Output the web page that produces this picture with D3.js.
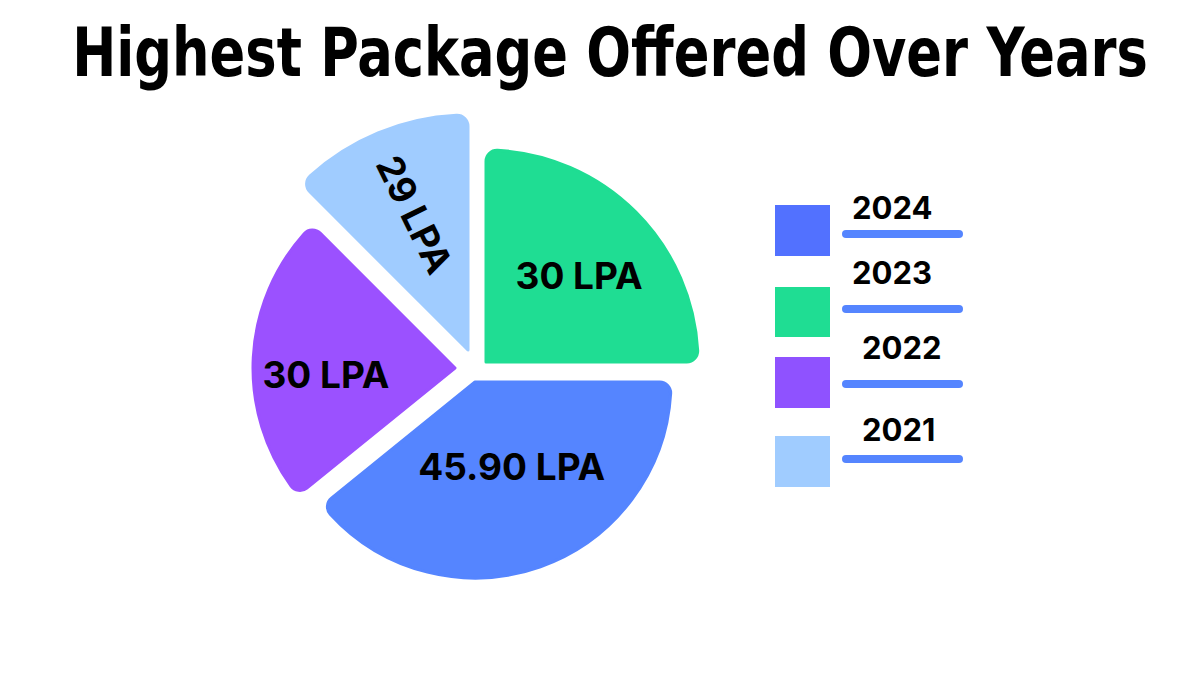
<!DOCTYPE html>
<html>
<head>
<meta charset="utf-8">
<script src="https://cdn.jsdelivr.net/npm/d3@7"></script>
<style>
  html, body { margin: 0; padding: 0; background: #ffffff; }
  svg { display: block; }
</style>
</head>
<body>
<svg id="chart" width="1200" height="675"></svg>
<script>
// ---- Data ----
const years = ["2024", "2023", "2022", "2021"];
const packageLabels = ["45.90 LPA", "30 LPA", "30 LPA", "29 LPA"];
// angular share of each slice as drawn in the picture (degrees)
const sliceShare = [141, 90, 84, 45];
// clockwise drawing order from 12 o'clock
const drawOrder = ["2023", "2024", "2022", "2021"];
const titleText = "Highest Package Offered Over Years";

// ---- Styles / layout ----
const pieColors = { "2024": "#5585FF", "2023": "#1FDD93", "2022": "#9B51FF", "2021": "#A0CCFF" };
const legendColors = { "2024": "#5271FF", "2023": "#1FDD93", "2022": "#8F52FF", "2021": "#A0CCFF" };
const center = { x: 471, y: 368 };
const sliceLayout = {
  "2024": { r: 196, dx: 4, dy: 14, labelFrac: 0.47, labelTwist: -4, rotate: 0 },
  "2023": { r: 212, dx: 15, dy: -6, labelFrac: 0.6, labelTwist: 2, rotate: 0 },
  "2022": { r: 202, dx: -16, dy: 0, labelFrac: 0.64, labelTwist: -6, rotate: 0 },
  "2021": { r: 235, dx: -3, dy: -18, labelFrac: 0.62, labelTwist: 1, rotate: 64 }
};

const svg = d3.select("#chart");

// Title (condensed bold, scaled to the reference width)
const titleW = 1076, titleCx = 610;
const title = svg.append("text")
  .attr("x", 0).attr("y", 0)
  .attr("text-anchor", "middle")
  .attr("font-family", "'Liberation Sans Narrow', 'DejaVu Sans Condensed', 'Roboto', sans-serif")
  .attr("font-weight", 700)
  .attr("font-size", 67)
  .attr("fill", "#000")
  .text(titleText);
const natW = title.node().getComputedTextLength() || titleW;
title.attr("transform", `translate(${titleCx},76) scale(${titleW / natW},1)`);

// Pie
const data = years.map((y, i) => ({ year: y, label: packageLabels[i], share: sliceShare[i] }));
const pie = d3.pie()
  .value(d => d.share)
  .sort((a, b) => drawOrder.indexOf(a.year) - drawOrder.indexOf(b.year));
const arcs = pie(data);

const g = svg.append("g").attr("transform", `translate(${center.x},${center.y})`);

const slice = g.selectAll("g.slice").data(arcs).join("g")
  .attr("class", "slice")
  .attr("transform", d => {
    const L = sliceLayout[d.data.year];
    return `translate(${L.dx},${L.dy})`;
  });

slice.append("path")
  .attr("d", d => d3.arc().innerRadius(0).outerRadius(sliceLayout[d.data.year].r).cornerRadius(11)(d))
  .attr("fill", d => pieColors[d.data.year])
  .attr("stroke", d => pieColors[d.data.year])
  .attr("stroke-width", 3)
  .attr("stroke-linejoin", "round");

slice.append("text")
  .attr("transform", d => {
    const L = sliceLayout[d.data.year];
    const a = (d.startAngle + d.endAngle) / 2 + L.labelTwist * Math.PI / 180;
    const rr = L.r * L.labelFrac;
    const x = Math.sin(a) * rr, y = -Math.cos(a) * rr;
    return `translate(${x},${y}) rotate(${L.rotate})`;
  })
  .attr("text-anchor", "middle")
  .attr("dominant-baseline", "central")
  .attr("font-family", "Inter, 'Open Sans', sans-serif")
  .attr("font-weight", 700)
  .attr("font-size", 37)
  .attr("fill", "#000")
  .text(d => d.data.label);

// Legend
const legendY = d3.scalePoint().domain(years).range([0, 3]);
const legendRows = [
  { sqTop: 205, sqH: 51, lineY: 234, textX: 852, textY: 219 },
  { sqTop: 287, sqH: 50, lineY: 309, textX: 852, textY: 284 },
  { sqTop: 357, sqH: 51, lineY: 384, textX: 862, textY: 359 },
  { sqTop: 436, sqH: 51, lineY: 459, textX: 862, textY: 441 }
];
const legend = svg.append("g");
const row = legend.selectAll("g").data(years).join("g");
row.append("rect")
  .attr("x", 775)
  .attr("y", d => legendRows[legendY(d)].sqTop)
  .attr("width", 55)
  .attr("height", d => legendRows[legendY(d)].sqH)
  .attr("fill", d => legendColors[d]);
row.append("line")
  .attr("x1", 846).attr("x2", 959)
  .attr("y1", d => legendRows[legendY(d)].lineY)
  .attr("y2", d => legendRows[legendY(d)].lineY)
  .attr("stroke", "#5585FF")
  .attr("stroke-width", 8)
  .attr("stroke-linecap", "round");
row.append("text")
  .attr("x", d => legendRows[legendY(d)].textX)
  .attr("y", d => legendRows[legendY(d)].textY)
  .attr("font-family", "Inter, 'Open Sans', sans-serif")
  .attr("font-weight", 700)
  .attr("font-size", 31)
  .attr("fill", "#000")
  .text(d => d);
</script>
</body>
</html>
